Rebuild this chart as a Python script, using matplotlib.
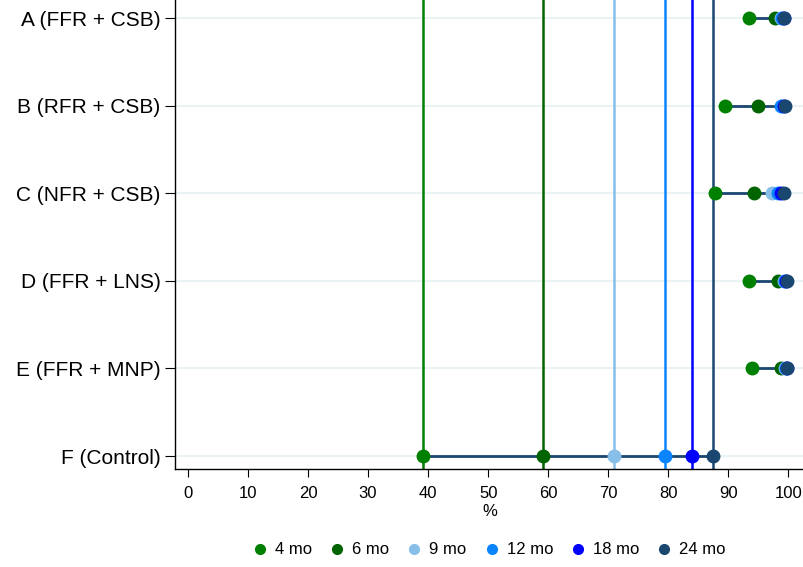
import matplotlib
matplotlib.use("Agg")
import matplotlib.pyplot as plt
from matplotlib.lines import Line2D

plt.rcParams['font.family'] = ['Liberation Sans', 'DejaVu Sans']

groups = ["A (FFR + CSB)", "B (RFR + CSB)", "C (NFR + CSB)", "D (FFR + LNS)", "E (FFR + MNP)", "F (Control)"]
periods = ["4 mo", "6 mo", "9 mo", "12 mo", "18 mo", "24 mo"]
colors = ["#008000", "#006400", "#87bfe8", "#0a84ff", "#0000ff", "#1a476f"]

# values per period, per group (A..F)
v4 = [93.5, 89.5, 87.8, 93.5, 94.0, 39.2]
v6 = [97.7, 95.0, 94.2, 98.3, 98.8, 59.1]
v9 = [98.8, 99.0, 97.2, 99.3, 99.5, 71.0]
v12 = [99.0, 98.8, 98.3, 99.5, 99.6, 79.4]
v18 = [99.2, 99.2, 98.8, 99.6, 99.7, 84.0]
v24 = [99.3, 99.4, 99.3, 99.7, 99.7, 87.4]
series = [v4, v6, v9, v12, v18, v24]

fig = plt.figure(figsize=(8.04, 5.67), dpi=100)
ax = fig.add_axes([175/804, 1-469/567, 1-175/804, 469/567])

ypos = list(range(len(groups)))
for y in ypos:
    ax.axhline(y, color="#eaf2f3", lw=1.5, zorder=0)

# reference vertical lines at control values
for vals, c in zip(series, colors):
    ax.axvline(vals[-1], color=c, lw=1.8, zorder=1)

# range lines
for i, y in enumerate(ypos):
    vs = [s[i] for s in series]
    ax.plot([min(vs), max(vs)], [y, y], color="#1a476f", lw=2, zorder=2, solid_capstyle='butt')

for vals, c, lab in zip(series, colors, periods):
    ax.plot(vals, ypos, 'o', color=c, ms=9, zorder=3, label=lab, mec=c)

ax.set_ylim(5 + 13/87.6, -18/87.6)
ax.set_xlim(-2.15, 102.6)
ax.set_yticks(ypos)
ax.set_yticklabels(groups, fontsize=15)
ax.set_xticks(range(0, 101, 10))
ax.tick_params(axis='x', labelsize=12, length=5.5, pad=7)
ax.tick_params(axis='y', length=7, pad=3.5)
ax.set_xlabel("%", fontsize=12, labelpad=2)
for s in ['top', 'right']:
    ax.spines[s].set_visible(False)
ax.spines['left'].set_linewidth(1)
ax.spines['bottom'].set_linewidth(1)

handles = [Line2D([], [], marker='o', ls='', color=c, ms=7) for c in colors]
fig.legend(handles, periods, loc='center', bbox_to_anchor=(488/804, 1-550/567),
           ncol=6, frameon=False, fontsize=12, handletextpad=0.3, columnspacing=0.9,
           handlelength=1.2)

fig.savefig("out.png", dpi=100)
